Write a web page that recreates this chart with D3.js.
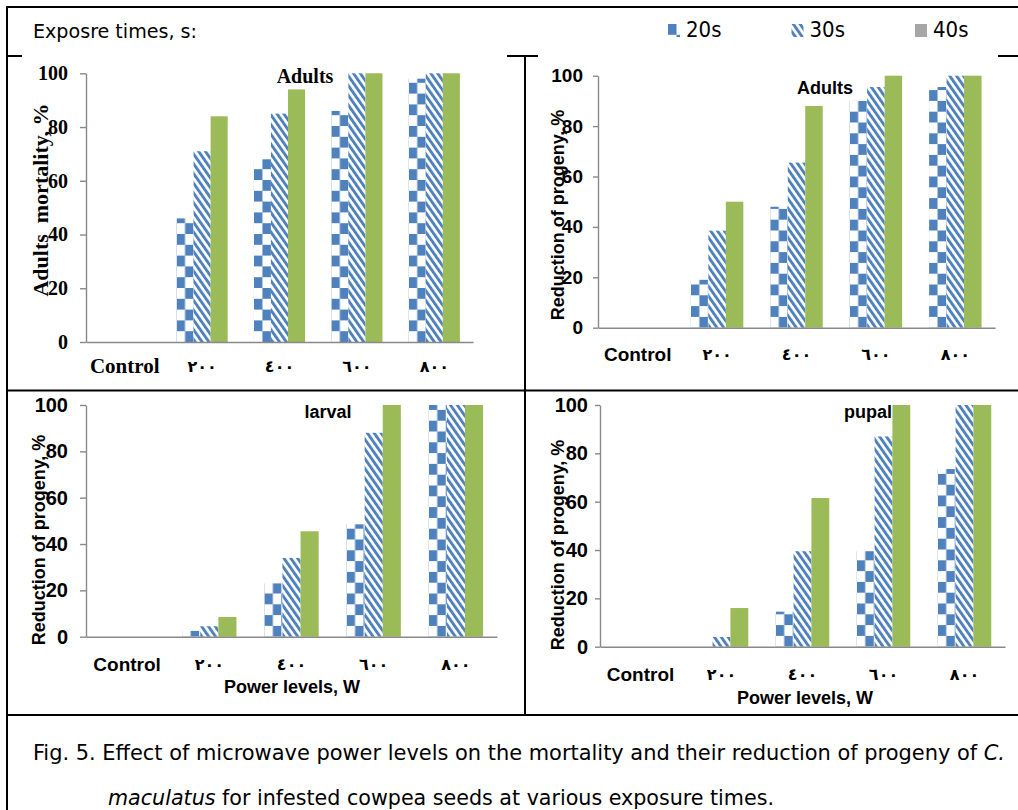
<!DOCTYPE html>
<html>
<head>
<meta charset="utf-8">
<script src="https://cdn.jsdelivr.net/npm/d3@7"></script>
<style>
  body { margin: 0; background: #fff; }
  svg { display: block; }
</style>
</head>
<body>
<script>
// categories and series
const categories = ["Control", "٢٠٠", "٤٠٠", "٦٠٠", "٨٠٠"];
const series = ["20s", "30s", "40s"];
const yTicks = [0, 20, 40, 60, 80, 100];

// adults mortality, %
const mortality20 = [0, 46, 68, 86, 98];
const mortality30 = [0, 71, 85, 100, 100];
const mortality40 = [0, 84, 94, 100, 100];

// reduction of progeny, % (adults)
const adults20 = [0, 19, 48, 90, 95.5];
const adults30 = [0, 38.5, 65.5, 95.5, 100];
const adults40 = [0, 50, 88, 100, 100];

// reduction of progeny, % (larval)
const larval20 = [0, 2.5, 23, 48.5, 100];
const larval30 = [0, 4.5, 34, 88, 100];
const larval40 = [0, 8.5, 45.5, 100, 100];

// reduction of progeny, % (pupal)
const pupal20 = [0, 0, 14.5, 39.5, 73.5];
const pupal30 = [0, 4, 39.5, 87, 100];
const pupal40 = [0, 16, 61.5, 100, 100];

const blue = "#4f81bd", green = "#9bbb59", axisGrey = "#898989";
const serif = "'Liberation Serif', 'Times New Roman', serif";
const sans = "'Liberation Sans', Arial, sans-serif";
const narrow = "'Liberation Sans Narrow', 'DejaVu Sans Condensed', 'DejaVu Sans', sans-serif";
const arabic = "'DejaVu Sans', sans-serif";

const svg = d3.select("body").append("svg")
    .attr("width", 1018)
    .attr("height", 810);

// patterns
const defs = svg.append("defs");
const chk = defs.append("pattern")
    .attr("id", "checker")
    .attr("patternUnits", "userSpaceOnUse")
    .attr("width", 17).attr("height", 21.6);
chk.append("rect").attr("width", 17).attr("height", 21.6).attr("fill", "#fff");
chk.append("rect").attr("x", 0).attr("y", 0).attr("width", 8.5).attr("height", 10.8).attr("fill", blue);
chk.append("rect").attr("x", 8.5).attr("y", 10.8).attr("width", 8.5).attr("height", 10.8).attr("fill", blue);

const str = defs.append("pattern")
    .attr("id", "stripes")
    .attr("patternUnits", "userSpaceOnUse")
    .attr("width", 5.6).attr("height", 20)
    .attr("patternTransform", "rotate(-35)");
str.append("rect").attr("width", 5.6).attr("height", 20).attr("fill", "#fff");
str.append("rect").attr("width", 2.9).attr("height", 20).attr("fill", blue);

const fillFor = s => s === "20s" ? "url(#checker)" : s === "30s" ? "url(#stripes)" : green;

// frame lines
const frame = svg.append("g").attr("stroke", "#000").attr("stroke-width", 2).attr("fill", "none");
frame.append("path").attr("d", "M7,810V7H1018");
frame.append("path").attr("d", "M7,56H22M507,56H538M998,56H1018");
frame.append("path").attr("d", "M525,56V715");
frame.append("path").attr("d", "M7,390.5H1018");
frame.append("path").attr("d", "M7,715H1018");

// header + legend
svg.append("text")
    .attr("x", 33).attr("y", 38)
    .attr("font-family", narrow).attr("font-size", 20)
    .attr("textLength", 164).attr("lengthAdjust", "spacingAndGlyphs")
    .text("Exposre times, s:");

const lx = d3.scalePoint().domain(series).range([668, 915]);
const legend = svg.append("g").selectAll("g")
    .data(series)
  .enter().append("g")
    .attr("transform", d => `translate(${lx(d)},24)`);
legend.append("rect")
    .attr("width", 12).attr("height", 13)
    .attr("fill", d => d === "40s" ? "#a6a6a6" : fillFor(d));
legend.append("text")
    .attr("x", 18).attr("y", 13)
    .attr("font-family", narrow).attr("font-size", 22)
    .text(d => d);

// panels
const panels = [
  {values: [mortality20, mortality30, mortality40], left: 86, right: 473, top: 73.3, bottom: 342,
   font: serif, tickSize: 6, tickPad: 12, tickFont: 20, titleFont: 20, ctrlFont: 21,
   title: "Adults", tx: 305, ty: 76, yTitle: "Adults  mortality, %", ytx: 40, yty: 200, ytFont: 22,
   labelY: 366},
  {values: [adults20, adults30, adults40], left: 598, right: 995, top: 75.7, bottom: 327.7,
   font: sans, tickSize: 5, tickPad: 10, tickFont: 19, titleFont: 18, ctrlFont: 19,
   title: "Adults", tx: 825, ty: 88, yTitle: "Reduction of progeny, %", ytx: 558, yty: 215, ytFont: 18,
   labelY: 354},
  {values: [larval20, larval30, larval40], left: 86, right: 497, top: 405, bottom: 636.7,
   font: sans, tickSize: 6, tickPad: 12, tickFont: 20, titleFont: 18, ctrlFont: 19,
   title: "larval", tx: 328, ty: 412, yTitle: "Reduction of progeny, %", ytx: 39, yty: 540, ytFont: 18,
   labelY: 664, power: [292, 687]},
  {values: [pupal20, pupal30, pupal40], left: 600, right: 1005, top: 405, bottom: 646.7,
   font: sans, tickSize: 5, tickPad: 7, tickFont: 20, titleFont: 18, ctrlFont: 19,
   title: "pupal", tx: 868, ty: 412, yTitle: "Reduction of progeny, %", ytx: 558, yty: 545, ytFont: 18,
   labelY: 674, power: [805, 698]}
];

panels.forEach(cfg => {
  const g = svg.append("g");

  const x0 = d3.scaleBand().domain(categories).range([cfg.left, cfg.right]);
  const x1 = d3.scaleBand().domain(series).range([0, x0.bandwidth()]).paddingOuter(0.77);
  const y = d3.scaleLinear().domain([0, 100]).range([cfg.bottom, cfg.top]);

  const data = categories.flatMap((c, i) =>
    series.map((s, j) => ({c: c, s: s, v: cfg.values[j][i]})));

  // bars, each in its own local frame so the patterns line up with the bar
  g.selectAll(".bar")
      .data(data.filter(d => d.v > 0))
    .enter().append("g")
      .attr("class", "bar")
      .attr("transform", d => `translate(${x0(d.c) + x1(d.s)},${y(0)})`)
    .append("rect")
      .attr("x", 0)
      .attr("y", d => y(d.v) - y(0))
      .attr("width", x1.bandwidth())
      .attr("height", d => y(0) - y(d.v))
      .attr("fill", d => fillFor(d.s));

  // y axis
  const ya = g.append("g")
      .attr("transform", `translate(${cfg.left},0)`)
      .call(d3.axisLeft(y).tickValues(yTicks).tickSize(cfg.tickSize).tickSizeOuter(0).tickPadding(cfg.tickPad));
  ya.selectAll("path,line").attr("stroke", axisGrey).attr("stroke-width", 1.4);
  ya.selectAll("text")
      .attr("font-family", cfg.font).attr("font-weight", "bold")
      .attr("font-size", cfg.tickFont).attr("fill", "#000");

  // x axis
  const xa = g.append("g")
      .attr("transform", `translate(0,${cfg.bottom})`)
      .call(d3.axisBottom(x0).tickSize(0).tickSizeOuter(0));
  xa.select(".domain").attr("stroke", axisGrey).attr("stroke-width", 1.4);
  xa.selectAll("text")
      .attr("y", cfg.labelY - cfg.bottom).attr("dy", "0.35em")
      .attr("fill", "#000").attr("font-weight", "bold")
      .attr("font-family", d => d === "Control" ? cfg.font : arabic)
      .attr("font-size", d => d === "Control" ? cfg.ctrlFont : 16)
      .attr("letter-spacing", d => d === "Control" ? 0 : 2);

  // panel label
  g.append("text")
      .attr("x", cfg.tx).attr("y", cfg.ty).attr("dy", "0.35em")
      .attr("text-anchor", "middle")
      .attr("font-family", cfg.font).attr("font-weight", "bold").attr("font-size", cfg.titleFont)
      .text(cfg.title);

  // y title
  g.append("text")
      .attr("transform", `translate(${cfg.ytx},${cfg.yty}) rotate(-90)`)
      .attr("dy", "0.35em")
      .attr("text-anchor", "middle")
      .style("white-space", "pre")
      .attr("font-family", cfg.font).attr("font-weight", "bold").attr("font-size", cfg.ytFont)
      .text(cfg.yTitle);

  if (cfg.power) {
    g.append("text")
        .attr("x", cfg.power[0]).attr("y", cfg.power[1]).attr("dy", "0.35em")
        .attr("text-anchor", "middle")
        .attr("font-family", sans).attr("font-weight", "bold").attr("font-size", 18)
        .text("Power levels, W");
  }
});

// caption, one text per line with italic species name
const cap = svg.append("g").attr("font-family", narrow).attr("font-size", 22);
const line1 = cap.append("text").attr("x", 33).attr("y", 760)
    .attr("textLength", 972).attr("lengthAdjust", "spacingAndGlyphs");
line1.append("tspan")
    .text("Fig. 5. Effect of microwave power levels on the mortality and their reduction of progeny of ");
line1.append("tspan").attr("font-style", "italic").text("C.");
const line2 = cap.append("text").attr("x", 108).attr("y", 805)
    .attr("textLength", 666).attr("lengthAdjust", "spacingAndGlyphs");
line2.append("tspan").attr("font-style", "italic").text("maculatus");
line2.append("tspan").text(" for infested cowpea seeds at various exposure times.");
</script>
</body>
</html>
